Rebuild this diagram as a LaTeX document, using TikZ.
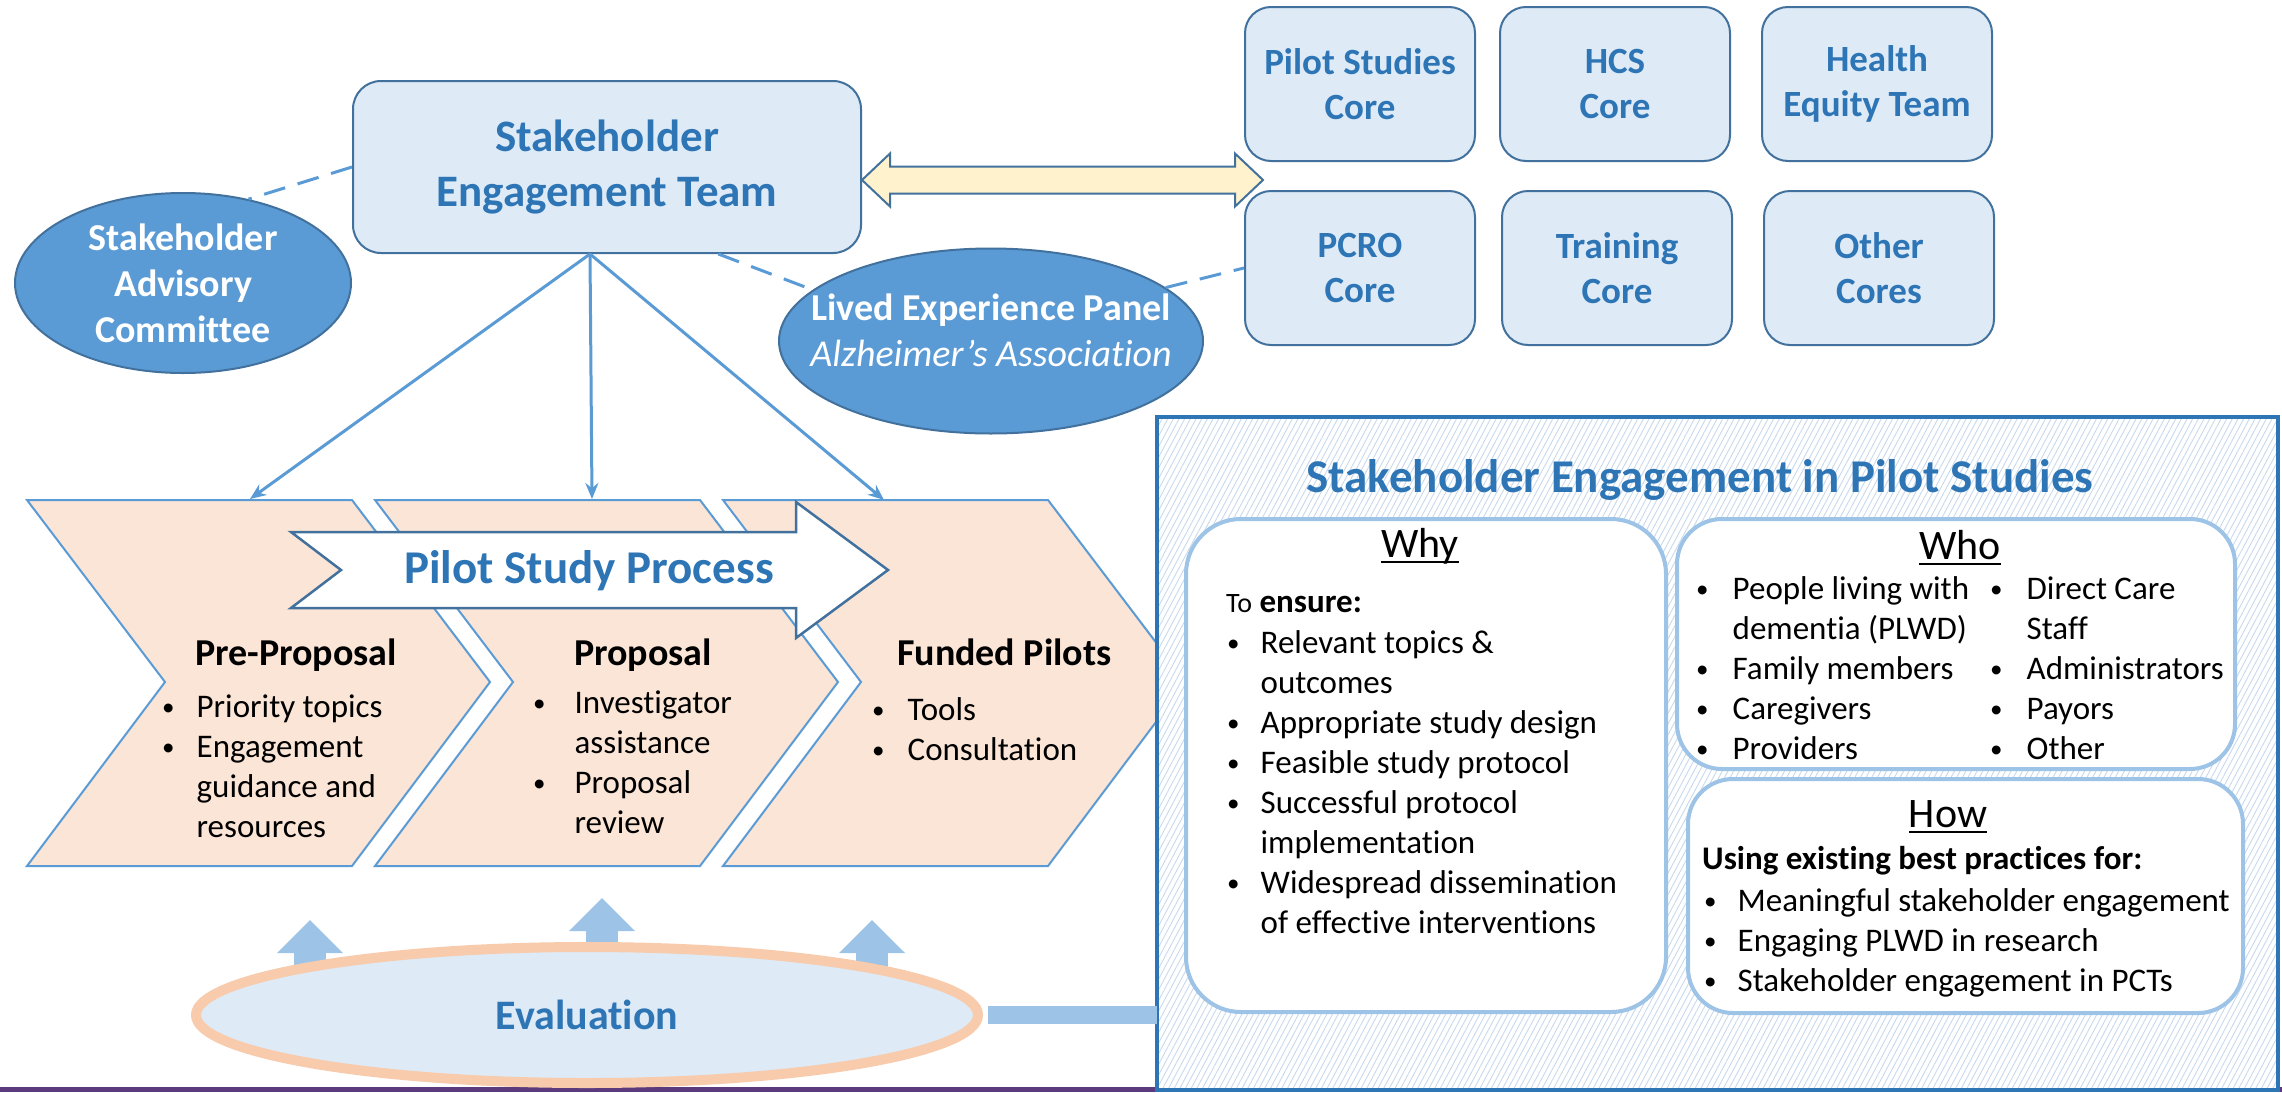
\documentclass[tikz,border=0pt]{standalone}
\usepackage{fontspec}
\setmainfont{Carlito}[Ligatures=NoCommon]
\usetikzlibrary{shapes.geometric, arrows.meta, patterns.meta}

\definecolor{titleblue}{HTML}{2E75B6}
\definecolor{boxfill}{HTML}{DEEBF7}
\definecolor{boxedge}{HTML}{41719C}
\definecolor{bubblefill}{HTML}{5B9BD5}
\definecolor{linkblue}{HTML}{5B9BD5}
\definecolor{peach}{HTML}{FBE5D6}
\definecolor{evalring}{HTML}{F8CBAD}
\definecolor{liftblue}{HTML}{9DC3E6}
\definecolor{cream}{HTML}{FFF2CC}
\definecolor{plum}{HTML}{5B3A7E}
\definecolor{hatch}{HTML}{C8D9ED}

% small bullet, bullet list: bullet column + text column
\newcommand{\bu}{\raisebox{2pt}{\fontsize{25}{25}\selectfont\textbullet}}
\newcommand{\blist}[2][21pt]{\begin{tabular}[t]{@{}l@{\hspace{#1}}l@{}}#2\end{tabular}}
% underlined heading
\newsavebox{\hdbox}
\newcommand{\hd}[1]{\sbox{\hdbox}{#1}\rlap{\rule[-6pt]{\wd\hdbox}{2.5pt}}\usebox{\hdbox}}

\tikzset{
  team/.style={draw=boxedge, fill=boxfill, line width=2pt, rounded corners=28pt,
    text=titleblue, align=center, inner sep=0pt},
  core/.style={team, rounded corners=26pt, minimum width=230pt, minimum height=154pt,
    font=\bfseries\fontsize{37}{45}\selectfont},
  bubble/.style={ellipse, draw=boxedge, fill=bubblefill, line width=2pt, text=white,
    align=center, inner sep=0pt, font=\bfseries\fontsize{38}{46}\selectfont},
  link/.style={draw=linkblue, line width=3pt},
  dashlink/.style={link, dash pattern=on 22pt off 13pt},
  feed/.style={link, -{Stealth[length=16pt,width=13pt]}},
  stage/.style={draw=linkblue, fill=peach, line width=2pt},
  stagehead/.style={anchor=base west, inner sep=0pt, font=\bfseries\fontsize{38}{46}\selectfont},
  stagelist/.style={anchor=base west, inner sep=0pt, font=\fontsize{33}{40}\selectfont},
  lift/.style={draw=liftblue, line width=32pt, -{Triangle[length=33pt,width=64pt]}},
  panel/.style={draw=titleblue, line width=4pt, preaction={fill=white},
    pattern={Lines[angle=62,distance=5pt,line width=0.9pt]}, pattern color=hatch},
  pane/.style={draw=liftblue, fill=white, line width=4pt, rounded corners=45pt},
  heading/.style={anchor=base, inner sep=0pt, font=\fontsize{42}{50}\selectfont}
}

\begin{document}
\begin{tikzpicture}[x=1pt, y=-1pt]
\path[use as bounding box, fill=white] (0,0) rectangle (2282,1092);
\fill[plum] (0,1087) rectangle (2282,1092);

% team, committees and cores
\node[team, minimum width=508pt, minimum height=172pt,
  font=\bfseries\fontsize{45}{55}\selectfont] (set) at (607,167) {Stakeholder\\Engagement Team};
\node[bubble, minimum width=336pt, minimum height=180pt] (sac) at (183,283)
  {Stakeholder\\Advisory\\Committee};
\node[bubble, minimum width=424pt, minimum height=185pt] (lep) at (991,341) {};
\node[text=white, align=center, inner sep=0pt, font=\fontsize{38}{46}\selectfont]
  (lep-text) at (991,330) {\textbf{Lived Experience Panel}\\\textit{Alzheimer’s Association}};

\node[core] (pilot) at (1360,84) {Pilot Studies\\Core};
\node[core] (hcs) at (1615,84) {HCS\\Core};
\node[core] (equity) at (1877,84) {Health\\Equity Team};
\node[core] (pcro) at (1360,268) {PCRO\\Core};
\node[core] (training) at (1617,268) {Training\\Core};
\node[core] (other) at (1879,268) {Other\\Cores};

% two-way link between team and cores
\draw[boxedge, fill=cream, line width=2pt] (set.east) ++(0,13) -- ++(28,-26.5) -- ++(0,13)
  -- ++(345,0) -- ++(0,-13) -- ++(28,26.5) -- ++(-28,26.5) -- ++(0,-13) -- ++(-345,0)
  -- ++(0,13) -- cycle;

% process chevrons
\foreach \x in {27,375,723}
  \draw[stage] (\x,500) -- ++(325,0) -- ++(138,182) -- ++(-138,184) -- ++(-325,0)
    -- ++(138,-184) -- cycle;
\coordinate (pre-in) at (250,499);
\coordinate (prop-in) at (592,499);
\coordinate (fund-in) at (884,500);

\draw[boxedge, fill=white, line width=2.5pt] (291,532) -- (796,532) -- (796,502) -- (888,570)
  -- (796,638) -- (796,608) -- (291,608) -- (341,570) -- cycle;
\node[text=titleblue, inner sep=0pt, font=\bfseries\fontsize{47}{56}\selectfont]
  (flow) at (589,571) {Pilot Study Process};

\node[stagehead] (pre-title) at (195,665) {Pre-Proposal};
\node[stagelist] (pre-items) at (162,717)
  {\blist[22pt]{\bu & Priority topics\\ \bu & Engagement\\ & guidance and\\ & resources}};
\node[stagehead] (prop-title) at (574,665) {Proposal};
\node[stagelist] (prop-items) at (533,713)
  {\blist[29pt]{\bu & Investigator\\ & assistance\\ \bu & Proposal\\ & review}};
\node[stagehead] (fund-title) at (897,665) {Funded Pilots};
\node[stagelist] (fund-items) at (872,720)
  {\blist[23pt]{\bu & Tools\\ \bu & Consultation}};

% connectors
\draw[feed] ([xshift=-17pt]set.south) -- (pre-in);
\draw[feed] ([xshift=-17pt]set.south) -- (prop-in);
\draw[feed] ([xshift=-17pt]set.south) -- (fund-in);
\draw[dashlink] (set.west) -- (sac.52);
\draw[dashlink] (set.-38) -- (lep.164);
\draw[dashlink] (lep.17) -- (pcro.west);

% engagement panel
\node[panel, minimum width=1121pt, minimum height=673pt] (panel) at (1717.5,753.5) {};
\node[text=titleblue, anchor=base, inner sep=0pt, font=\bfseries\fontsize{47}{56}\selectfont]
  (panel-title) at (1700,492) {Stakeholder Engagement in Pilot Studies};
\node[pane, rounded corners=55pt, minimum width=480pt, minimum height=493pt] (why) at (1426,765.5) {};
\node[pane, minimum width=558pt, minimum height=250pt] (who) at (1956,644) {};
\node[pane, minimum width=555pt, minimum height=234pt] (how) at (1965.5,896) {};

\node[heading] (why-head) at (1420,557) {\hd{Why}};
\node[stagelist] (why-lead) at (1226,612) {{\fontsize{28}{40}\selectfont To} \textbf{ensure:}};
\node[stagelist] (why-items) at (1227,653)
  {\blist{\bu & Relevant topics \&\\ & outcomes\\ \bu & Appropriate study design\\
   \bu & Feasible study protocol\\ \bu & Successful protocol\\ & implementation\\
   \bu & Widespread dissemination\\ & of effective interventions}};

\node[heading] (who-head) at (1960,559) {\hd{Who}};
\node[stagelist] (who-left) at (1696,599)
  {\blist[24pt]{\bu & People living with\\ & dementia (PLWD)\\ \bu & Family members\\
   \bu & Caregivers\\ \bu & Providers}};
\node[stagelist] (who-right) at (1990,599)
  {\blist[24pt]{\bu & Direct Care\\ & Staff\\ \bu & Administrators\\
   \bu & Payors\\ \bu & Other}};

\node[heading] (how-head) at (1948,827) {\hd{How}};
\node[stagelist, font=\bfseries\fontsize{33}{40}\selectfont] (how-lead) at (1702,869)
  {Using existing best practices for:};
\node[stagelist] (how-items) at (1704,911)
  {\blist{\bu & Meaningful stakeholder engagement\\ \bu & Engaging PLWD in research\\
   \bu & Stakeholder engagement in PCTs}};

% evaluation feeding back into the process
\draw[lift] (310,975) -- (310,920);
\draw[lift] (602,975) -- (602,898);
\draw[lift] (872,975) -- (872,920);
\node[ellipse, draw=evalring, line width=10pt, fill=boxfill, minimum width=782pt,
  minimum height=136pt, inner sep=0pt, text=titleblue,
  font=\bfseries\fontsize{42}{50}\selectfont] (eval) at (587,1015) {Evaluation};
\draw[liftblue, line width=18pt] ([xshift=5pt]eval.east) -- (eval.east -| panel.west);
\end{tikzpicture}
\end{document}
